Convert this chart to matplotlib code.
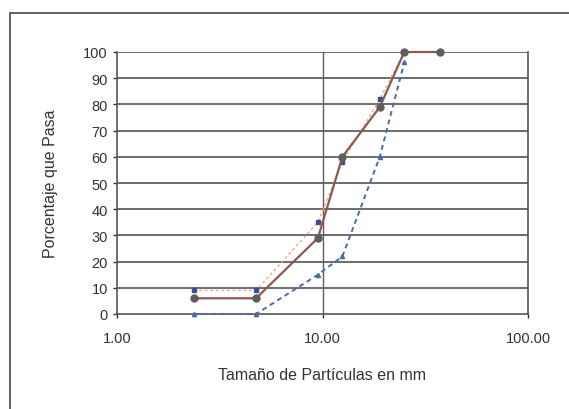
import matplotlib.pyplot as plt
from matplotlib.patches import Rectangle
from matplotlib.ticker import FixedLocator, FuncFormatter, NullLocator

plt.rcParams['font.family'] = ['Liberation Sans', 'DejaVu Sans']

# sieve sizes (mm) and percent passing
sizes = [2.36, 4.75, 9.5, 12.5, 19.0, 25.0, 37.5]
muestra = [6, 6, 29, 60, 79, 100, 100]

lim_sizes = [2.36, 4.75, 9.5, 12.5, 19.0, 25.0]
lim_inf = [0, 0, 15, 22, 60, 96]
lim_sup = [9, 9, 35, 58, 82, 100]

fig = plt.figure(figsize=(5.69, 4.10), dpi=100)
# outer frame of the embedded excel chart
fig.patches.append(Rectangle((10/569, -0.1), 1.2, 1 - 14/410 + 0.1,
                             transform=fig.transFigure, fill=False,
                             edgecolor='#555555', lw=1.3))

ax = fig.add_axes([117/569, 1 - 315/410, (528 - 117)/569, (315 - 53)/410])
ax.set_xscale('log')
ax.set_xlim(1, 100)
ax.set_ylim(0, 100)

ax.plot(lim_sizes, lim_sup, color='#e6a890', lw=1.0, ls=(0, (2, 2)),
        marker='s', ms=3, mfc='#3c4f8a', mec='#3c4f8a', zorder=3, clip_on=False)
ax.plot(lim_sizes, lim_inf, color='#4a6aa8', lw=1.4, ls=(0, (2.5, 2)),
        marker='^', ms=3, mfc='#4a6aa8', mec='#4a6aa8', zorder=3, clip_on=False)
ax.plot(sizes, muestra, color='#8a5a4e', lw=1.6, marker='o', ms=5,
        mfc='#5e5e5e', mec='#5e5e5e', zorder=4, clip_on=False)

# grid
for y in range(10, 101, 10):
    ax.axhline(y, color='#606060', lw=1.3, zorder=1)
ax.axvline(10, color='#606060', lw=1.0, zorder=1)

ax.set_yticks(range(0, 101, 10))
ax.xaxis.set_major_locator(FixedLocator([1, 10, 100]))
ax.xaxis.set_minor_locator(NullLocator())
ax.xaxis.set_major_formatter(FuncFormatter(lambda v, p: '%.2f' % v))
ax.tick_params(axis='both', labelsize=10.5, colors='#333333', length=3, width=1)
ax.tick_params(axis='x', pad=9)

for s in ['left', 'bottom', 'right']:
    ax.spines[s].set_color('#555555')
    ax.spines[s].set_linewidth(1.2)
ax.spines['top'].set_visible(False)

ax.set_ylabel('Porcentaje que Pasa', fontsize=11.5, color='#333333', labelpad=18)
ax.set_xlabel('Tamaño de Partículas en mm', fontsize=11.5, color='#333333', labelpad=16)

fig.savefig('out.png', dpi=100)
